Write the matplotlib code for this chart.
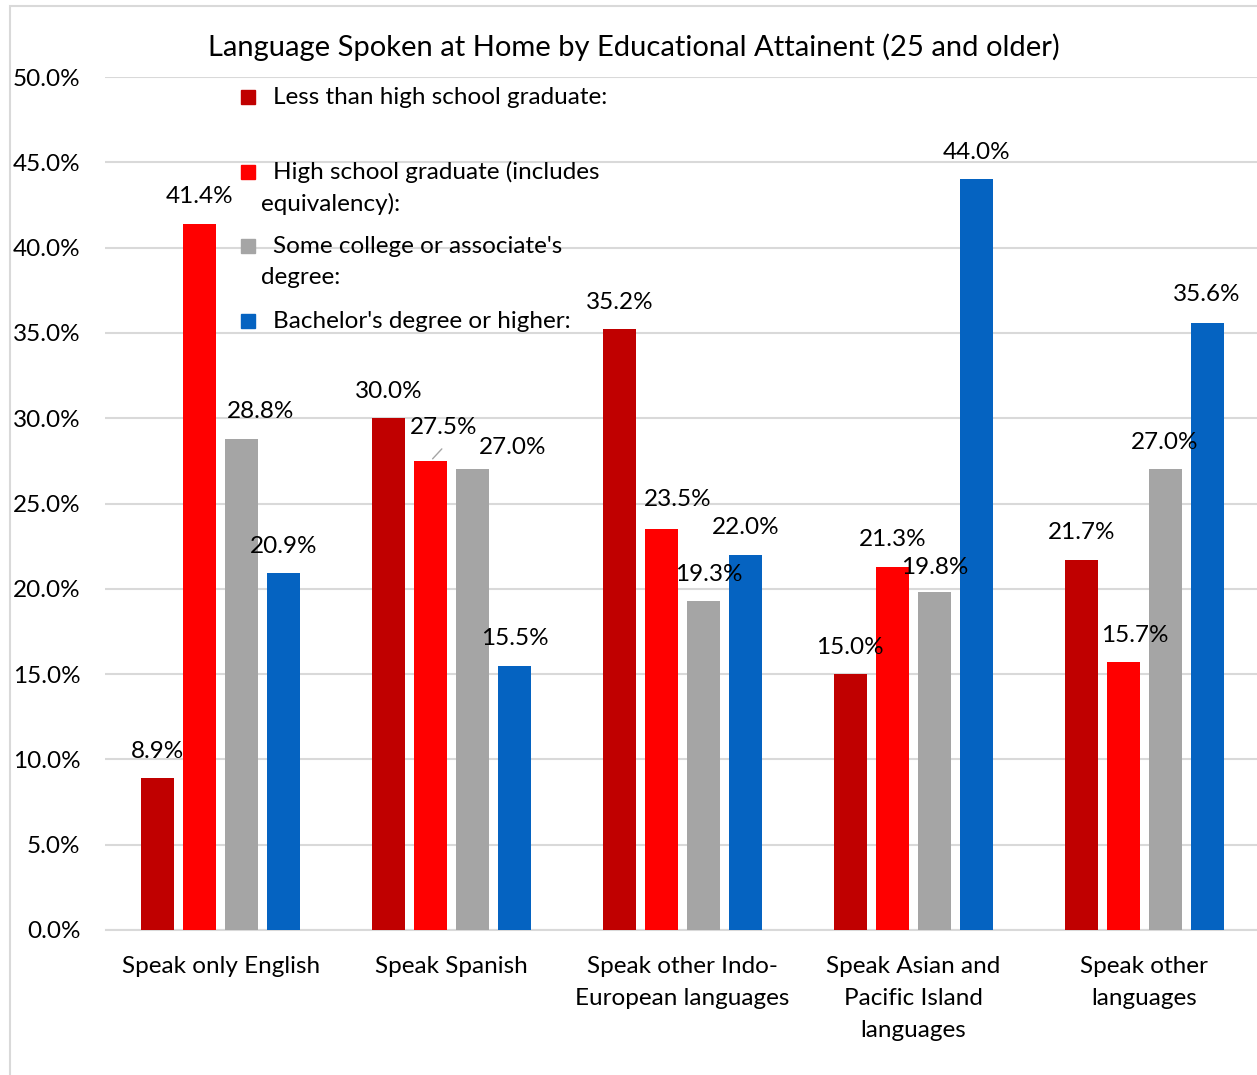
import matplotlib.pyplot as plt
import numpy as np
from matplotlib.patches import Rectangle
from matplotlib.ticker import FuncFormatter

plt.rcParams["font.family"] = ["Lato", "DejaVu Sans"]

# data
categories = ["Speak only English", "Speak Spanish", "Speak other Indo-\nEuropean languages",
              "Speak Asian and\nPacific Island\nlanguages", "Speak other\nlanguages"]
series_names = ["Less than high school graduate:",
                "High school graduate (includes\nequivalency):",
                "Some college or associate's\ndegree:",
                "Bachelor's degree or higher:"]
less_than_hs = [8.9, 30.0, 35.2, 15.0, 21.7]
hs_grad = [41.4, 27.5, 23.5, 21.3, 15.7]
some_college = [28.8, 27.0, 19.3, 19.8, 27.0]
bachelors = [20.9, 15.5, 22.0, 44.0, 35.6]
colors = ["#C00000", "#FF0000", "#A5A5A5", "#0563C1"]

# label nudges (pixels) where Excel moved labels sideways / up
label_dx = [[0, 0, 0, 0, 0],
            [0, 13, 16, 0, 12],
            [19, 40, 5, 0, 0],
            [0, 0, 0, 0, 0]]
label_dy = [[27, 27, 27, 27, 27],
            [27, 33, 30, 27, 27],
            [27, 22, 26, 25, 27],
            [27, 27, 27, 27, 28]]

FS = 17.5
W, H = 1257, 1075
fig = plt.figure(figsize=(W / 100, H / 100), dpi=100)
ax = fig.add_axes([105.5 / W, 1 - 930 / H, 1154 / W, 853 / H])

# outer chart border (light gray)
fig.patches.append(Rectangle((10 / W, -0.5), 2, 1.5 - 6 / H, transform=fig.transFigure,
                             fill=False, ec="#D9D9D9", lw=1.5))

x = np.arange(len(categories))
step = 42 / 231
width = 33 / 231
all_series = [less_than_hs, hs_grad, some_college, bachelors]
for i, (vals, c) in enumerate(zip(all_series, colors)):
    pos = x + (i - 1.5) * step
    ax.bar(pos, vals, width=width, color=c, zorder=3)
    for j, (px, v) in enumerate(zip(pos, vals)):
        ax.annotate(f"{v:.1f}%", (px, v), xytext=(label_dx[i][j], label_dy[i][j]),
                    textcoords="offset pixels", ha="center", va="center",
                    fontsize=FS, color="#000000", zorder=5)

# leader line for 27.5%
ax.annotate("", (1 - 0.5 * step, hs_grad[1]), xytext=(13, 14), textcoords="offset pixels",
            arrowprops=dict(arrowstyle="-", color="#A5A5A5", lw=1))

ax.set_xlim(-0.5, len(categories) - 0.5)
ax.set_ylim(0, 50)
ax.set_yticks(np.arange(0, 50.1, 5))
ax.yaxis.set_major_formatter(FuncFormatter(lambda v, p: f"{v:.1f}%"))
ax.grid(axis="y", color="#D9D9D9", lw=1.5, zorder=0)
ax.set_xticks(x)
ax.set_xticklabels(categories, fontsize=FS, linespacing=1.65)
ax.tick_params(length=0, labelsize=FS)
ax.tick_params(axis="x", pad=19)
ax.tick_params(axis="y", pad=18)
for side in ["top", "right", "left"]:
    ax.spines[side].set_visible(False)
ax.spines["bottom"].set_color("#D9D9D9")
ax.spines["bottom"].set_linewidth(1.5)

fig.text(634 / W, 1 - 47 / H, "Language Spoken at Home by Educational Attainent (25 and older)",
         ha="center", va="center", fontsize=21)

# legend drawn by hand to mimic Excel's wrapped entries
leg_y = [97, 172, 246, 321]
for name, c, yy in zip(series_names, colors, leg_y):
    fig.patches.append(Rectangle((241 / W, 1 - (yy + 7) / H), 14 / W, 14 / H,
                                 transform=fig.transFigure, color=c))
    lines = name.split("\n")
    fig.text(273 / W, 1 - yy / H, lines[0], ha="left", va="center", fontsize=FS)
    if len(lines) > 1:
        fig.text(261 / W, 1 - (yy + 32) / H, lines[1], ha="left", va="center", fontsize=FS)

fig.savefig("out.png", dpi=100, facecolor="white")
